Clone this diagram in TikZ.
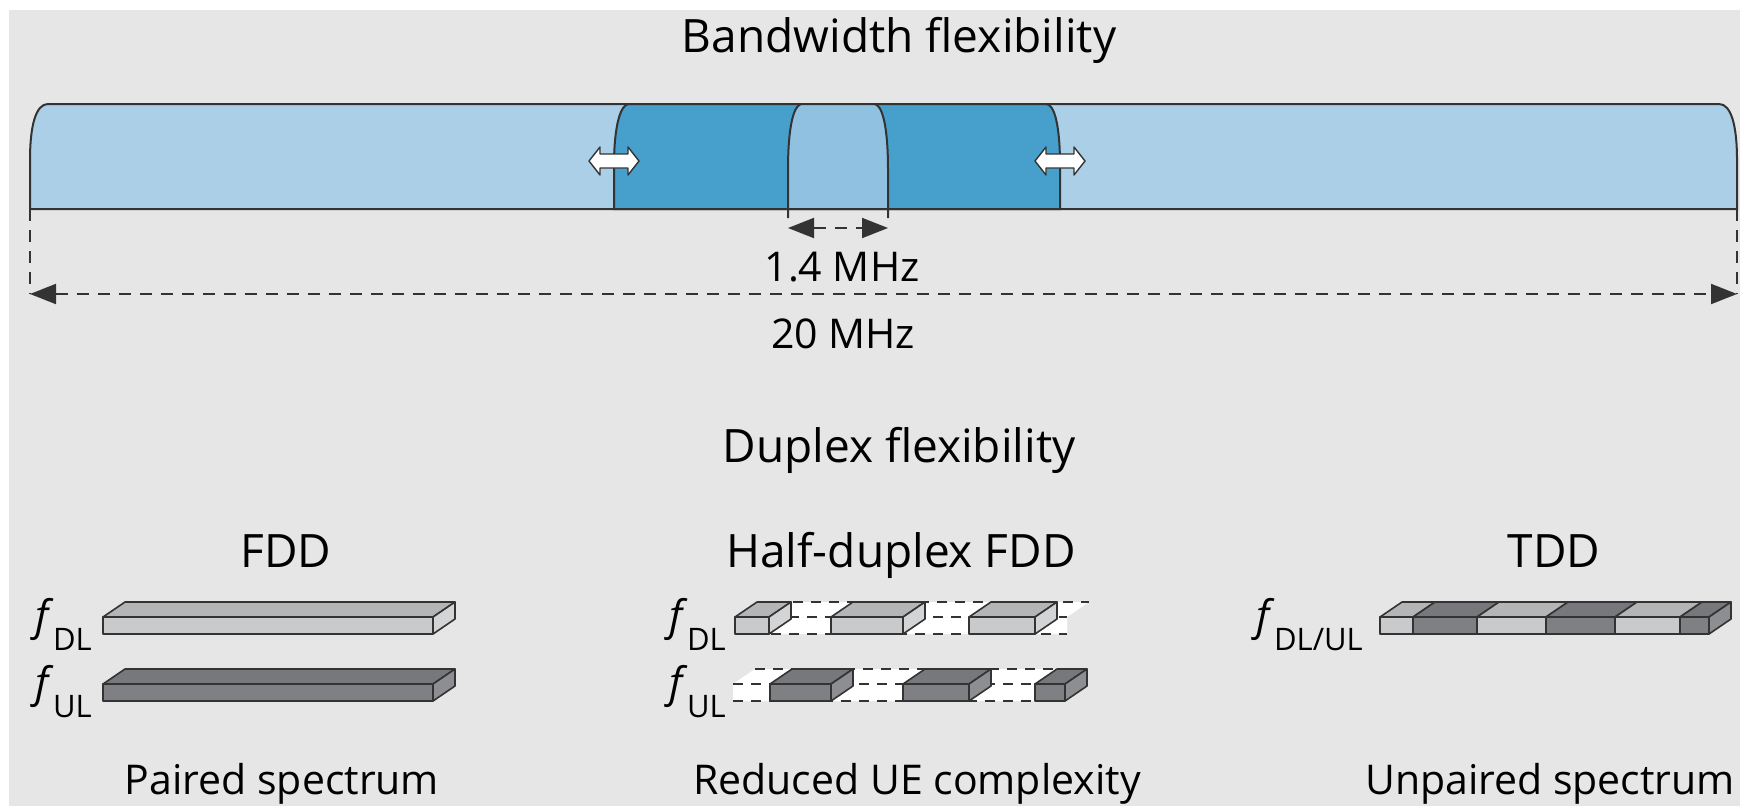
\documentclass[tikz,border=0pt]{standalone}
\usepackage{fontspec}
\setmainfont{Open Sans}
\usetikzlibrary{arrows.meta}
\definecolor{bg}{HTML}{E6E6E6}
\definecolor{bandlight}{HTML}{ABCFE6}
\definecolor{banddark}{HTML}{479FCB}
\definecolor{bandinner}{HTML}{91C1E0}
\definecolor{edge}{HTML}{333333}
\definecolor{lfront}{HTML}{C9CACC}
\definecolor{ltop}{HTML}{B4B5B7}
\definecolor{lside}{HTML}{D3D4D5}
\definecolor{dfront}{HTML}{7F8083}
\definecolor{dtop}{HTML}{77787B}
\definecolor{dside}{HTML}{8D8E91}
\newcommand\myslab[6]{%
  \filldraw[fill=#4] (#1,#3) rectangle (#2,#3+17);
  \filldraw[fill=#5] (#1,#3) -- (#1+22,#3-15) -- (#2+22,#3-15) -- (#2,#3) -- cycle;
  \filldraw[fill=#6] (#2,#3) -- (#2+22,#3-15) -- (#2+22,#3+2) -- (#2,#3+17) -- cycle;
}
\newcommand\mytop[3]{%
  \filldraw[fill=#3] (#1,617) -- (#1+22,602) -- (#2+22,602) -- (#2,617) -- cycle;
}
\tikzset{
  lbl/.style={font=\fontsize{41}{48}\selectfont, anchor=base, inner sep=0pt},
  head/.style={font=\fontsize{46}{54}\selectfont, anchor=base, inner sep=0pt},
  flbl/.style={font=\fontsize{42}{48}\selectfont, anchor=base east, inner sep=0pt},
  dim/.style={draw=edge, line width=2pt, dash pattern=on 12pt off 9pt},
  dimtips/.style={{Triangle[length=26pt,width=20pt]}-{Triangle[length=26pt,width=20pt]}},
  bandedge/.style={draw=edge, line width=2pt},
  slabs/.style={draw=edge, line width=1.6pt, line join=round},
  gap/.style={draw=edge, line width=1.6pt, dash pattern=on 10pt off 8pt},
  wa/.style={draw=edge, line width=1.4pt, fill=white, line join=round}
}
\newcommand\fsub[1]{\textit{f}\kern-1pt\raisebox{-20pt}{\fontsize{31}{31}\selectfont #1}}
\begin{document}
\begin{tikzpicture}[x=1pt,y=-1pt]
\useasboundingbox (0,0) rectangle (1740,806);
\fill[bg] (9,10) rectangle (1740,806);

% ---------- Bandwidth flexibility ----------
\node[head] (t1) at (899,52) {Bandwidth flexibility};

\filldraw[bandedge, fill=bandlight] (30,209) -- (30,160) .. controls (30,125) and (36,104) .. (48,104)
  -- (1719,104) .. controls (1731,104) and (1737,125) .. (1737,160) -- (1737,209) -- cycle;
\filldraw[bandedge, fill=banddark] (614,209) -- (614,165) .. controls (614,128) and (620,104) .. (629,104)
  -- (1046,104) .. controls (1055,104) and (1060,128) .. (1060,165) -- (1060,209) -- cycle;
\fill[bandinner] (788,209) -- (788,170) .. controls (788,125) and (794,104) .. (802,104)
  -- (874,104) .. controls (882,104) and (888,125) .. (888,170) -- (888,209) -- cycle;
\draw[bandedge] (788,218) -- (788,170) .. controls (788,125) and (794,104) .. (802,104) -- (874,104)
  .. controls (882,104) and (888,125) .. (888,170) -- (888,218);
\draw[bandedge] (788,209) -- (888,209);

% white double arrows
\filldraw[wa] (589,161) -- (600,147) -- (600,154) -- (628,154) -- (628,147) -- (639,161)
  -- (628,175) -- (628,168) -- (600,168) -- (600,175) -- cycle;
\filldraw[wa] (1035,161) -- (1046,147) -- (1046,154) -- (1074,154) -- (1074,147) -- (1085,161)
  -- (1074,175) -- (1074,168) -- (1046,168) -- (1046,175) -- cycle;

% 1.4 MHz
\coordinate (n1) at (788,228);
\coordinate (n2) at (888,228);
\draw[dim, dimtips] (n1) -- (n2);
\node[lbl] (t14) at (842,281) {1.4 MHz};

% 20 MHz
\coordinate (bl) at (30,209);
\coordinate (br) at (1737,209);
\coordinate (al) at (30,294);
\coordinate (ar) at (1737,294);
\draw[dim] (bl) -- (al);
\draw[dim] (br) -- (ar);
\draw[dim, dimtips] (al) -- (ar);
\node[lbl] (t20) at (843,348) {20 MHz};

% ---------- Duplex flexibility ----------
\node[head] (t2) at (899,462) {Duplex flexibility};
\node[head] (fdd) at (286,567) {FDD};
\node[head] (hd) at (901,567) {Half-duplex FDD};
\node[head] (tdd) at (1554,567) {TDD};

\node[lbl] (p1) at (282,794) {Paired spectrum};
\node[lbl] (p2) at (917,794) {Reduced UE complexity};
\node[lbl] (p3) at (1550,794) {Unpaired spectrum};

% FDD
\node[flbl] (fdl1) at (92,630) {\fsub{DL}};
\node[flbl] (ful1) at (92,697) {\fsub{UL}};
\begin{scope}[slabs]
\myslab{103}{433}{617}{lfront}{ltop}{lside}
\myslab{103}{433}{684}{dfront}{dtop}{dside}
\end{scope}

% Half-duplex FDD
\node[flbl] (fdl2) at (726,630) {\fsub{DL}};
\node[flbl] (ful2) at (726,697) {\fsub{UL}};
\fill[white] (735,634) -- (735,617) -- (757,602) -- (1089,602) -- (1067,617) -- (1067,634) -- cycle;
\draw[gap] (757,602) -- (1089,602);
\draw[gap] (735,617) -- (1067,617);
\draw[gap] (735,634) -- (1067,634);
\fill[white] (733,701) -- (733,684) -- (755,669) -- (1087,669) -- (1065,684) -- (1065,701) -- cycle;
\draw[gap] (755,669) -- (1087,669);
\draw[gap] (733,684) -- (1065,684);
\draw[gap] (733,701) -- (1065,701);
\begin{scope}[slabs]
\myslab{735}{769}{617}{lfront}{ltop}{lside}
\myslab{831}{903}{617}{lfront}{ltop}{lside}
\myslab{969}{1035}{617}{lfront}{ltop}{lside}
\myslab{770}{831}{684}{dfront}{dtop}{dside}
\myslab{903}{969}{684}{dfront}{dtop}{dside}
\myslab{1035}{1065}{684}{dfront}{dtop}{dside}
\end{scope}

% TDD
\node[flbl] (fdlul) at (1363,630) {\fsub{DL/UL}};
\begin{scope}[slabs]
\filldraw[fill=lfront] (1380,617) rectangle (1413,634);
\filldraw[fill=dfront] (1413,617) rectangle (1477,634);
\filldraw[fill=lfront] (1477,617) rectangle (1546,634);
\filldraw[fill=dfront] (1546,617) rectangle (1615,634);
\filldraw[fill=lfront] (1615,617) rectangle (1680,634);
\filldraw[fill=dfront] (1680,617) rectangle (1709,634);
\mytop{1380}{1413}{ltop}
\mytop{1413}{1477}{dtop}
\mytop{1477}{1546}{ltop}
\mytop{1546}{1615}{dtop}
\mytop{1615}{1680}{ltop}
\mytop{1680}{1709}{dtop}
\filldraw[fill=dside] (1709,617) -- (1731,602) -- (1731,619) -- (1709,634) -- cycle;
\end{scope}
\end{tikzpicture}
\end{document}
